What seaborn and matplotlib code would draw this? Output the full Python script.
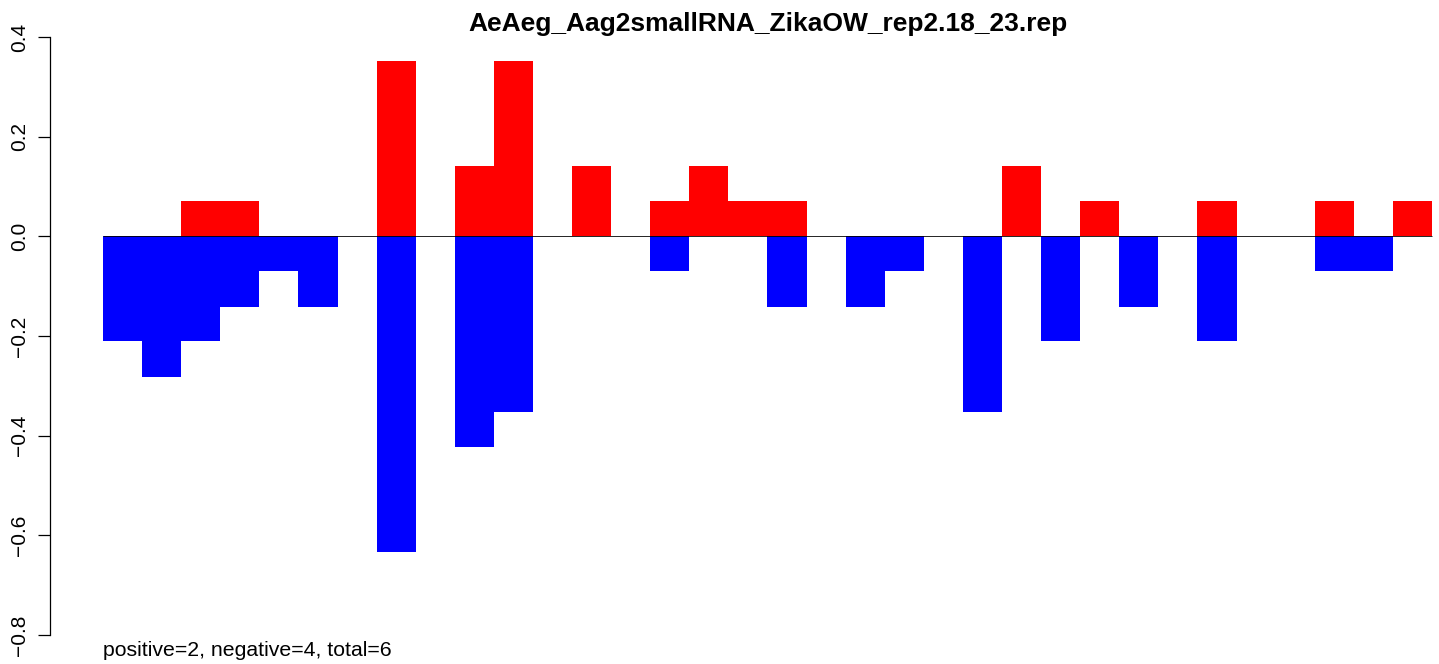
"""Positive / negative strand bar chart for one small RNA sample."""

import matplotlib

matplotlib.use("Agg")
import matplotlib.pyplot as plt
import pandas as pd
import seaborn as sns

title = "AeAeg_Aag2smallRNA_ZikaOW_rep2.18_23.rep"
footer = "positive=2, negative=4, total=6"

# one value per bin, 34 bins
positions = list(range(34))
positive = [
    0, 0, 0.070, 0.070, 0, 0, 0, 0.352, 0, 0.141,
    0.352, 0, 0.141, 0, 0.070, 0.141, 0.070, 0.070, 0, 0,
    0, 0, 0, 0.141, 0, 0.070, 0, 0, 0.070, 0,
    0, 0.070, 0, 0.070,
]
negative = [
    -0.211, -0.282, -0.211, -0.141, -0.070, -0.141, 0, -0.634, 0, -0.423,
    -0.352, 0, 0, 0, -0.070, 0, 0, -0.141, 0, -0.141,
    -0.070, 0, -0.352, 0, -0.211, 0, -0.141, 0, -0.211, 0,
    0, -0.070, -0.070, 0,
]
yticks = [-0.8, -0.6, -0.4, -0.2, 0.0, 0.2, 0.4]

if __name__ == "__main__":
    sns.set_style("white")
    plt.rcParams["font.family"] = ["Liberation Sans", "DejaVu Sans"]
    plt.rcParams["text.color"] = "black"
    plt.rcParams["ytick.color"] = "black"
    plt.rcParams["axes.edgecolor"] = "black"

    df = pd.DataFrame({"pos": positions, "positive": positive, "negative": negative})

    W, H = 1439, 664
    fig = plt.figure(figsize=(W / 100, H / 100), dpi=100)
    # axes placed in pixel terms: left axis line at x=50, y from 37 to 635
    ax = fig.add_axes([50 / W, 1 - 635 / H, (W - 50) / W, (635 - 37) / H])

    sns.barplot(data=df, x="pos", y="negative", color="#0000ff", saturation=1,
                width=1, errorbar=None, linewidth=0, ax=ax)
    sns.barplot(data=df, x="pos", y="positive", color="#ff0000", saturation=1,
                width=1, errorbar=None, linewidth=0, ax=ax)
    ax.hlines(0, -0.5, 33.5, color="black", lw=0.6, zorder=5)

    unit = 1329 / 34  # pixels per bar
    ax.set_xlim(-0.5 - 53 / unit, -0.5 + (W - 103) / unit)
    ax.set_ylim(-0.8, 0.4)

    for side in ["top", "right", "bottom"]:
        ax.spines[side].set_visible(False)
    ax.spines["left"].set_bounds(-0.8, 0.4)
    ax.spines["left"].set_linewidth(0.9)
    ax.set_xticks([])
    ax.set_xlabel("")
    ax.set_ylabel("")
    ax.set_yticks(yticks)
    ax.set_yticklabels([f"{v:.1f}".replace("-", "\u2212") for v in yticks],
                       rotation=90, va="center", fontsize=15, color="black")
    ax.tick_params(axis="y", length=9, width=0.9, pad=6, left=True, colors="black")

    fig.text(768 / W, 1 - 24 / H, title, ha="center", va="center",
             fontsize=19, fontweight="bold", color="black")
    fig.text(103 / W, 1 - 651 / H, footer, ha="left", va="center",
             fontsize=15.3, color="black")

    fig.savefig("out.png", dpi=100)
